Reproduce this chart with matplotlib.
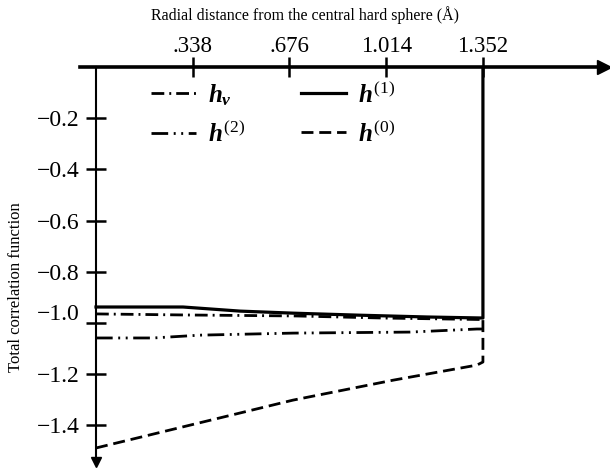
import matplotlib
matplotlib.use('Agg')
import matplotlib.pyplot as plt
from matplotlib.transforms import ScaledTranslation

plt.rcParams['font.family'] = ['Liberation Serif', 'DejaVu Serif']
plt.rcParams['mathtext.fontset'] = 'custom'
plt.rcParams['mathtext.rm'] = 'Liberation Serif'
plt.rcParams['mathtext.it'] = 'Liberation Serif:italic:bold'

# values
x_ticks = [0.338, 0.676, 1.014, 1.352]
x_tick_labels = ['.338', '.676', '1.014', '1.352']
y_ticks = [-0.2, -0.4, -0.6, -0.8, -1.0, -1.2, -1.4]
y_tick_labels = ['\u22120.2', '\u22120.4', '\u22120.6', '\u22120.8',
                 '\u22121.0', '\u22121.2', '\u22121.4']

h1_x = [0.0, 0.304, 0.503, 0.688, 0.922, 1.157, 1.352, 1.352]
h1_y = [-0.938, -0.938, -0.954, -0.962, -0.970, -0.977, -0.981, 0.0]

hv_x = [0.0, 0.3, 0.7, 1.0, 1.352]
hv_y = [-0.965, -0.969, -0.973, -0.981, -0.987]

h2_x = [0.0, 0.2, 0.363, 0.688, 1.097, 1.331, 1.352]
h2_y = [-1.059, -1.059, -1.048, -1.040, -1.036, -1.024, -1.024]

h0_x = [0.0, 0.688, 1.038, 1.331, 1.352, 1.352]
h0_y = [-1.489, -1.302, -1.224, -1.165, -1.153, -0.981]

fig = plt.figure(figsize=(6.1, 4.7), dpi=100)
ax = fig.add_axes([80 / 610, 0.0, 530 / 610, 403 / 470])
ax.set_xlim(-0.0559, 1.796)
ax.set_ylim(-1.575, 0.0)

lw = 2.0
l_hv, = ax.plot(hv_x, hv_y, color='black', lw=lw, linestyle=(0, (4.6, 1.8, 0.7, 1.8)),
                label=r'$h_\nu$')
l_h2, = ax.plot(h2_x, h2_y, color='black', lw=lw, linestyle=(0, (6, 2, 0.7, 2, 0.7, 2)),
                label=r'$h^{(2)}$')
l_h1, = ax.plot(h1_x, h1_y, color='black', lw=2.3, linestyle='-', label=r'$h^{(1)}$')
l_h0, = ax.plot(h0_x, h0_y, color='black', lw=lw, linestyle=(0, (4.3, 2.1)),
                label=r'$h^{(0)}$')

# axes drawn as arrows through the origin
for side in ['right', 'bottom']:
    ax.spines[side].set_visible(False)
ax.spines['left'].set_position(('data', 0))
ax.spines['left'].set_bounds(-1.55, 0)
ax.spines['left'].set_linewidth(1.5)
ax.spines['top'].set_linewidth(2.6)
ax.spines['top'].set_bounds(-0.0559, 1.77)
ax.plot(0.988, 1, '>', color='black', ms=10, transform=ax.transAxes, clip_on=False)
ax.plot(0, -1.545, 'v', color='black', ms=7, clip_on=False)

ax.xaxis.set_ticks_position('top')
ax.set_xticks(x_ticks)
ax.set_xticklabels(x_tick_labels, fontsize=16.5)
ax.tick_params(axis='x', direction='inout', length=14, width=1.8, pad=0)
ax.set_yticks(y_ticks)
ax.set_yticklabels(y_tick_labels, fontsize=17)
ax.tick_params(axis='y', direction='inout', length=14, width=1.8, pad=5)

# the -1.0 label sits a little above its tick in the original
for lab in ax.get_yticklabels():
    if lab.get_text() == '\u22121.0':
        lab.set_transform(lab.get_transform() + ScaledTranslation(0, 8 / 72, fig.dpi_scale_trans))

fig.text(0.5, 1 - 15 / 470, 'Radial distance from the central hard sphere (\u00c5)',
         ha='center', va='center', fontsize=11.5)
fig.text(16 / 610, 1 - 287 / 470, 'Total correlation function', rotation=90,
         ha='center', va='center', fontsize=12)

ax.legend(handles=[l_hv, l_h2, l_h1, l_h0], ncol=2, frameon=False, fontsize=18,
          loc='upper left', bbox_to_anchor=(151 / 610, 1 - 82 / 470),
          bbox_transform=fig.transFigure, borderpad=0, borderaxespad=0,
          handlelength=1.8, handletextpad=0.5, columnspacing=2.2, labelspacing=0.55)

fig.savefig('out.png', dpi=100)
